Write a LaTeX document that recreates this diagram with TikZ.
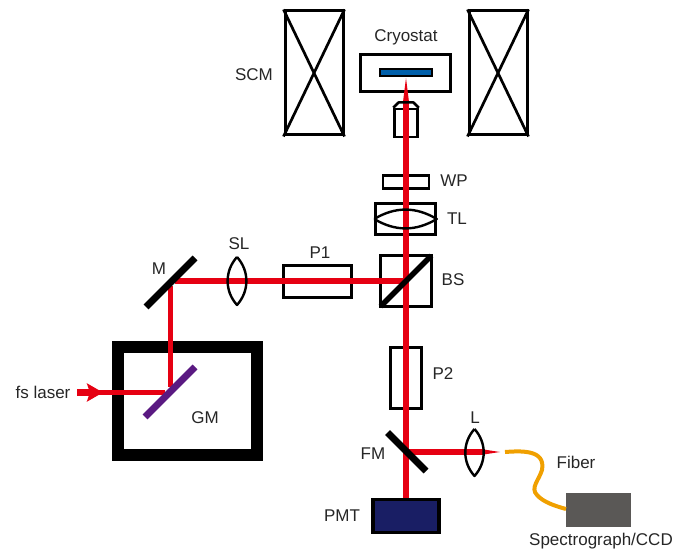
\documentclass[tikz,border=0pt]{standalone}
\usepackage{fontspec}
\setmainfont{Liberation Sans}
\usepackage{xcolor}
\usetikzlibrary{positioning,arrows.meta}

\definecolor{beamred}{RGB}{230,0,18}
\definecolor{samplebl}{RGB}{0,95,170}
\definecolor{gmpurple}{RGB}{90,25,130}
\definecolor{fiberor}{RGB}{240,160,0}
\definecolor{pmtnavy}{RGB}{25,30,100}
\definecolor{ccdgray}{RGB}{90,88,86}

\begin{document}
\begin{tikzpicture}[
    x=1pt, y=-1pt,
    font=\fontsize{17}{20}\selectfont,
    part/.style={draw, line width=3pt, inner sep=0pt, minimum width=#1},
    optic/.style={draw, line width=2.5pt, inner sep=0pt, minimum width=#1},
    beam/.style={draw=beamred, line width=5.8pt},
    hbeam/.style={draw=beamred, line width=5.2pt},
    mirror/.style={draw, line width=7pt},
    lensline/.style={draw, line width=2.4pt, line join=round},
    lb/.style={inner sep=0pt, text=black!85},
]
    \useasboundingbox (0,0) rectangle (678,553);

    % magnet and cryostat
    \node[part=58pt, minimum height=124pt] (scml) at (314,73) {};
    \node[part=58pt, minimum height=124pt] (scmr) at (498,73) {};
    \draw[line width=2.7pt] (scml.north west) -- (scml.south east);
    \draw[line width=2.7pt] (scml.north east) -- (scml.south west);
    \draw[line width=2.7pt] (scmr.north west) -- (scmr.south east);
    \draw[line width=2.7pt] (scmr.north east) -- (scmr.south west);
    \node[part=90pt, minimum height=37pt] (cryo) at (405.5,73) {};
    \node[draw, line width=2.4pt, fill=samplebl, inner sep=0pt, minimum width=52pt, minimum height=6.5pt] (sample) at (406,72.5) {};

    % optics on the beam
    \node[optic=23pt, minimum height=28pt] (obj) at (406,123) {};
    \node[optic=46pt, minimum height=13pt] (wp) at (406,182) {};
    \node[optic=60pt, minimum height=31pt] (tl) at (405.5,219) {};
    \node[optic=51pt, minimum height=51pt] (bs) at (406,281) {};
    \node[optic=68pt, minimum height=32pt] (pa) at (317.5,281.5) {};
    \node[optic=31pt, minimum height=61pt] (pb) at (406,378) {};

    % scanner box
    \node[draw, line width=12pt, inner sep=0pt, minimum width=139pt, minimum height=108pt] (gm) at (187.5,401) {};

    % detectors
    \node[draw, line width=3.6pt, fill=pmtnavy, inner sep=0pt, minimum width=66pt, minimum height=33pt] (pmt) at (406,516) {};
    \node[fill=ccdgray, inner sep=0pt, minimum width=65pt, minimum height=34pt] (ccd) at (598.5,510) {};

    % beam path
    \coordinate (tip) at (406,78);
    \coordinate (tipa) at (403.1,101);
    \coordinate (tipb) at (408.9,101);
    \coordinate (tipc) at (406,101);
    \coordinate (mh) at (175,281);
    \coordinate (mv) at (170.5,286);
    \coordinate (gv) at (170.5,387);
    \coordinate (gh) at (165,392.5);
    \coordinate (fm) at (406,452);
    \coordinate (in) at (77,392.5);
    \coordinate (inb) at (103,392.5);
    \coordinate (inc) at (92,392.5);
    \coordinate (foc) at (500,452);
    \coordinate (foca) at (483,449.4);
    \coordinate (focb) at (483,454.6);
    \coordinate (focc) at (483,452);
    \draw[beam] (pmt.north) -- (tipc);
    \fill[beamred] (tipa) -- (tip) -- (tipb) -- cycle;
    \draw[hbeam] (bs.center) -- (mh);
    \draw[beam] (mv) -- (gv);
    \draw[beam] (gh) -- (inc);
    \draw[beam, line width=6.5pt, -{Stealth[length=16pt,width=18pt,inset=3pt]}] (in) -- (inb);
    \draw[hbeam] (fm) -- (focc);
    \fill[beamred] (foca) -- (foc) -- (focb) -- cycle;

    % objective top
    \draw[line width=2.5pt, line join=round] (obj.north west) -- (398.5,102.5) -- (413.5,102.5) -- (obj.north east);

    % lenses
    \coordinate (sla) at (237,257);
    \coordinate (slb) at (237,305);
    \coordinate (la) at (474.5,429);
    \coordinate (lb) at (474.5,476);
    \draw[lensline] (sla) to[bend left=42] (slb) to[bend left=42] (sla);
    \draw[lensline] (la) to[bend left=42] (lb) to[bend left=42] (la);
    \draw[lensline] (tl.west) to[bend left=31] (tl.east) to[bend left=31] (tl.west);

    % mirrors
    \draw[mirror] (146,307) -- (195,258);
    \draw[mirror, gmpurple] (145,417) -- (195,367);
    \draw[mirror] (387.5,432.5) -- (426,471);
    \draw[line width=5.5pt, shorten <=2pt, shorten >=2pt] (bs.south west) -- (bs.north east);

    % fiber
    \coordinate (fa) at (505,452);
    \coordinate (fb) at (566,509);
    \draw[draw=fiberor, line width=4pt] (fa) .. controls (520,451) and (546,449) .. (542,470)
        .. controls (539,480) and (530,488) .. (537,495) .. controls (543,502) and (555,506) .. (fb);

    % labels
    \node[lb] (lcryo) at (406,37) {Cryostat};
    \node[lb] (lscm) at (254,75) {SCM};
    \node[lb] (lwp) at (454,181) {WP};
    \node[lb] (ltl) at (457,219) {TL};
    \node[lb] (lsl) at (239,244) {SL};
    \node[lb] (lpa) at (320,253) {P1};
    \node[lb] (lm) at (159,269) {M};
    \node[lb] (lbs) at (453,280) {BS};
    \node[lb] (lpb) at (443,374) {P2};
    \node[lb] (lgm) at (205,418) {GM};
    \node[lb] (lfm) at (373,454) {FM};
    \node[lb] (ll) at (475,418) {L};
    \node[lb] (lfib) at (576,462) {Fiber};
    \node[lb] (lccd) at (601,541) {Spectrograph/CCD};
    \node[lb] (lpmt) at (342,516) {PMT};
    \node[lb] (lfs) at (43,392) {fs laser};
\end{tikzpicture}
\end{document}
